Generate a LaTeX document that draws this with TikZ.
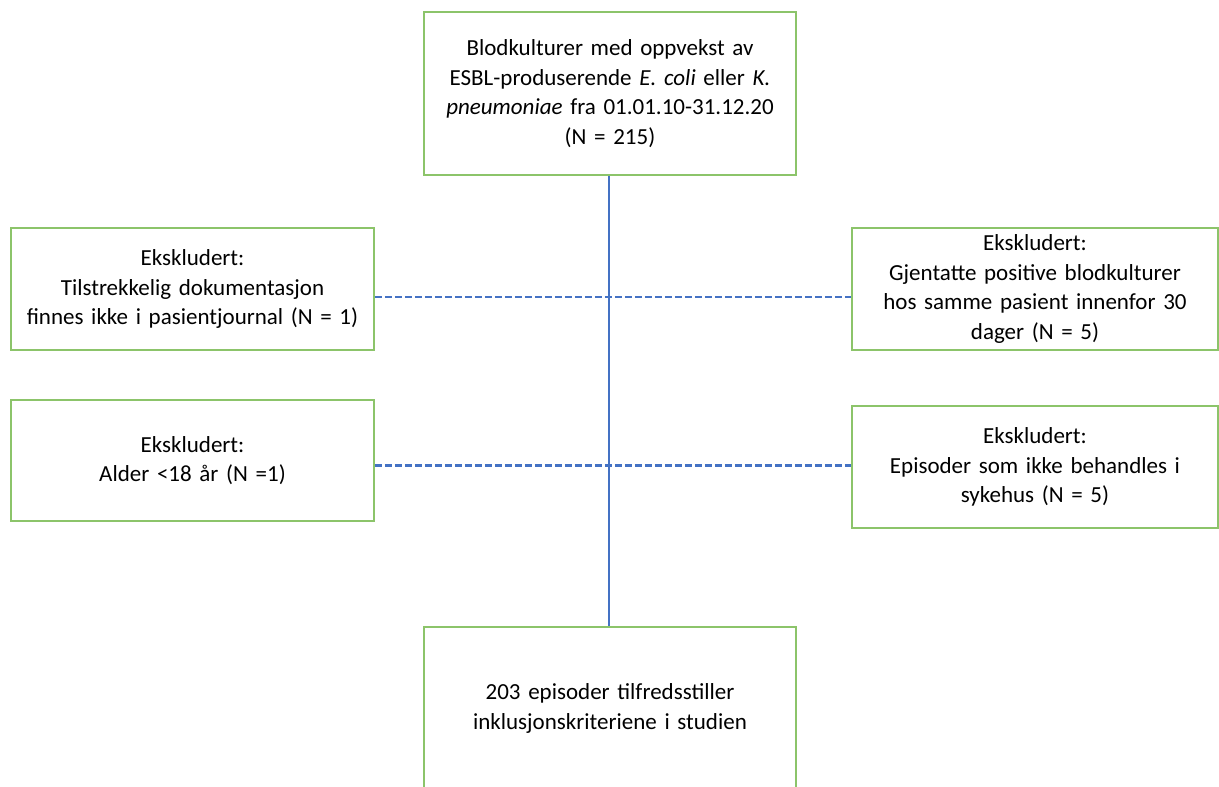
\documentclass[tikz,border=0pt]{standalone}
\usepackage{fontspec}
\setmainfont[WordSpace={0.85,0,0}]{Carlito}
\definecolor{boxgreen}{HTML}{8CC46A}
\definecolor{lineblue}{HTML}{4472C4}
\begin{document}
\begin{tikzpicture}[x=1pt,y=1pt,
  box/.style={draw=boxgreen,line width=1.6pt,fill=white,align=center,inner sep=0pt,
    font=\fontsize{23}{29.5}\selectfont},
  solidline/.style={draw=lineblue,line width=2.2pt},
  dashline/.style={draw=lineblue,line width=2.2pt,dash pattern=on 7pt off 3pt}]
\clip (0,0) rectangle (1219,787);
\useasboundingbox (0,0) rectangle (1219,787);
\fill[white] (0,0) rectangle (1219,787);
\node[box,minimum width=372pt,minimum height=163pt,text width=360pt] (top) at (610,693.5)
  {Blodkulturer med oppvekst av\\ESBL-produserende \textit{E. coli} eller \textit{K.}\\\textit{pneumoniae} fra 01.01.10-31.12.20\\(N = 215)};
\node[box,minimum width=372pt,minimum height=163pt,text width=360pt] (bot) at (610,78.5)
  {203 episoder tilfredsstiller\\inklusjonskriteriene i studien};
\node[box,minimum width=363pt,minimum height=122pt,text width=355pt] (l1) at (192.5,498)
  {Ekskludert:\\Tilstrekkelig dokumentasjon\\finnes ikke i pasientjournal (N = 1)};
\node[box,minimum width=366pt,minimum height=122pt,text width=355pt] (r1) at (1035,498)
  {Ekskludert:\\Gjentatte positive blodkulturer\\hos samme pasient innenfor 30\\dager (N = 5)};
\node[box,minimum width=363pt,minimum height=121pt,text width=355pt] (l2) at (192.5,326.5)
  {Ekskludert:\\Alder <18 år (N =1)};
\node[box,minimum width=366pt,minimum height=122pt,text width=355pt] (r2) at (1035,320)
  {Ekskludert:\\Episoder som ikke behandles i\\sykehus (N = 5)};
\coordinate (d1) at (609,490);
\coordinate (d2) at (609,321.5);
\draw[dashline] (l1.east |- d1) -- (r1.west |- d1);
\draw[dashline] (l2.east |- d2) -- (r2.west |- d2);
\draw[solidline] (top.south -| d1) -- (bot.north -| d1);
\end{tikzpicture}
\end{document}
